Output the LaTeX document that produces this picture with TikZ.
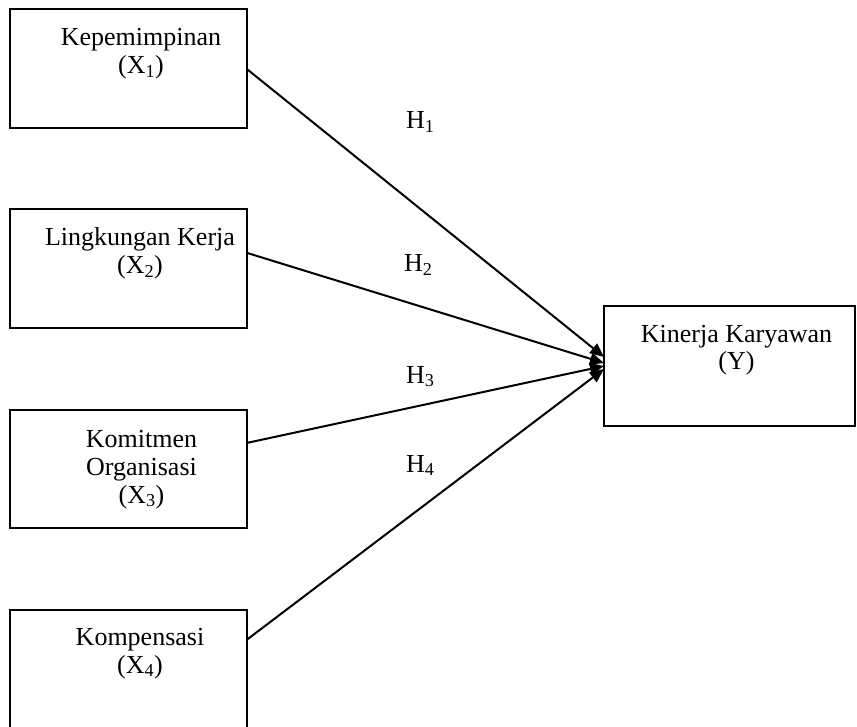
\documentclass[tikz,border=0pt]{standalone}
\usepackage{fontspec}
\setmainfont{Liberation Serif}
\usetikzlibrary{arrows.meta}
\begin{document}
\begin{tikzpicture}[x=1pt,y=-1pt,
  box/.style={draw,line width=2pt,inner sep=0pt,outer sep=0pt,minimum width=237pt,minimum height=118.5pt},
  ybox/.style={draw,line width=2pt,inner sep=0pt,outer sep=0pt,minimum width=251pt,minimum height=120pt},
  lbl/.style={anchor=base,align=center,inner sep=0pt,font=\fontsize{26}{28}\selectfont},
  hl/.style={anchor=base west,inner sep=0pt,font=\fontsize{26}{28}\selectfont},
  arr/.style={line width=2pt,-{Triangle[length=14pt,width=12pt]}}]
\useasboundingbox (0,0) rectangle (857,727);
\node[box] (b1) at (128,68.75) {};
\node[box] (b2) at (128,268.75) {};
\node[box] (b3) at (128,469) {};
\node[box] (b4) at (128,669) {};
\node[ybox] (by) at (729.5,366) {};
\node[lbl] (t1) at (141,74) {Kepemimpinan\\(X\textsubscript{1})};
\node[lbl] (t2) at (140,274) {Lingkungan Kerja\\(X\textsubscript{2})};
\node[lbl] (t3) at (141.5,503) {Komitmen\\Organisasi\\(X\textsubscript{3})};
\node[lbl] (t4) at (140,673) {Kompensasi\\(X\textsubscript{4})};
\node[lbl] (ty) at (736.5,370) {Kinerja Karyawan\\(Y)};
\node[hl] (h1) at (406,129) {H\textsubscript{1}};
\node[hl] (h2) at (404,272) {H\textsubscript{2}};
\node[hl] (h3) at (406,383) {H\textsubscript{3}};
\node[hl] (h4) at (406,472) {H\textsubscript{4}};
\draw[arr] (b1.east) -- ([yshift=9pt]by.west);
\draw[arr] ([yshift=16pt]b2.east) -- ([yshift=3pt]by.west);
\draw[arr] ([yshift=26pt]b3.east) -- (by.west);
\draw[arr] ([yshift=29pt]b4.east) -- ([yshift=-3pt]by.west);
\end{tikzpicture}
\end{document}
